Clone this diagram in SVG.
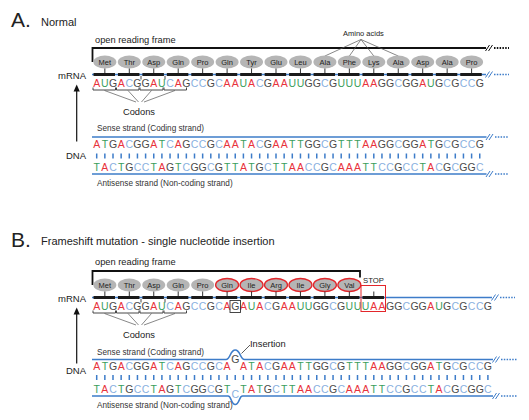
<svg xmlns="http://www.w3.org/2000/svg" width="529" height="420" viewBox="0 0 529 420">
<style>
text{font-family:"Liberation Sans",Arial,sans-serif;fill:#222}
.nt{font-size:10.5px;text-anchor:middle;fill:#4a4a4a}
.a{fill:#e8323c}.u{fill:#3a9e5c}.c{fill:#8ab0e0}
.aa ellipse{fill:#b5b5b5}
.aa text{font-size:7.5px;text-anchor:middle;fill:#222}
.mut ellipse{stroke:#e3262b;stroke-width:1.3}
.bb{stroke:#3d7cc9;stroke-width:1.6;fill:none}
.bar{stroke:#1a1a1a;stroke-width:3;stroke-dasharray:21.5 2.95}
.stem{stroke:#333;stroke-width:5;stroke-dasharray:1 23.45}
.tick{stroke:#3d7cc9;stroke-width:5;stroke-dasharray:1.5 6.65}
.dotb{stroke:#3d7cc9;stroke-width:1.6;stroke-dasharray:1.5 1.3}
.dotk{stroke:#111;stroke-width:1.8;stroke-dasharray:1.5 1.3}
.brk{stroke-width:1;fill:none}
.thin{stroke:#555;stroke-width:0.7;fill:none}
.brk2{stroke:#333;stroke-width:0.9;fill:none}
.lbl{font-size:8.2px;fill:#333}
.side{font-size:9.5px;text-anchor:end}
.orf{font-size:9.3px}
</style>

<!-- ================= PART A ================= -->
<g id="partA">
  <text x="11" y="26.7" font-size="21">A.</text>
  <text x="41" y="26" font-size="11">Normal</text>
  <text class="orf" x="95" y="42.5">open reading frame</text>

  <g id="A-orf-bracket">
    <path d="M92.5 62V48H486" stroke="#111" stroke-width="1.8" fill="none"/>
    <path class="brk" stroke="#111" d="M485.5 51L489.5 45M488.5 51L492.5 45"/>
    <line class="dotk" x1="494" y1="48" x2="509" y2="48"/>
  </g>

  <g id="A-amino-label">
    <text x="343" y="36" font-size="7.5">Amino acids</text>
    <path class="thin" d="M361 39.5L324.9 56M361 39.5L349.35 56M361 39.5L373.8 56M361 39.5L398.25 56"/>
  </g>

  <g id="A-aminoacids" class="aa">
    <g id="A-aa1"><ellipse cx="104.85" cy="62" rx="11.5" ry="6.5"/><text x="104.85" y="64.7">Met</text></g>
    <g id="A-aa2"><ellipse cx="129.3" cy="62" rx="11.5" ry="6.5"/><text x="129.3" y="64.7">Thr</text></g>
    <g id="A-aa3"><ellipse cx="153.75" cy="62" rx="11.5" ry="6.5"/><text x="153.75" y="64.7">Asp</text></g>
    <g id="A-aa4"><ellipse cx="178.2" cy="62" rx="11.5" ry="6.5"/><text x="178.2" y="64.7">Gln</text></g>
    <g id="A-aa5"><ellipse cx="202.65" cy="62" rx="11.5" ry="6.5"/><text x="202.65" y="64.7">Pro</text></g>
    <g id="A-aa6"><ellipse cx="227.1" cy="62" rx="11.5" ry="6.5"/><text x="227.1" y="64.7">Gln</text></g>
    <g id="A-aa7"><ellipse cx="251.55" cy="62" rx="11.5" ry="6.5"/><text x="251.55" y="64.7">Tyr</text></g>
    <g id="A-aa8"><ellipse cx="276" cy="62" rx="11.5" ry="6.5"/><text x="276" y="64.7">Glu</text></g>
    <g id="A-aa9"><ellipse cx="300.45" cy="62" rx="11.5" ry="6.5"/><text x="300.45" y="64.7">Leu</text></g>
    <g id="A-aa10"><ellipse cx="324.9" cy="62" rx="11.5" ry="6.5"/><text x="324.9" y="64.7">Ala</text></g>
    <g id="A-aa11"><ellipse cx="349.35" cy="62" rx="11.5" ry="6.5"/><text x="349.35" y="64.7">Phe</text></g>
    <g id="A-aa12"><ellipse cx="373.8" cy="62" rx="11.5" ry="6.5"/><text x="373.8" y="64.7">Lys</text></g>
    <g id="A-aa13"><ellipse cx="398.25" cy="62" rx="11.5" ry="6.5"/><text x="398.25" y="64.7">Ala</text></g>
    <g id="A-aa14"><ellipse cx="422.7" cy="62" rx="11.5" ry="6.5"/><text x="422.7" y="64.7">Asp</text></g>
    <g id="A-aa15"><ellipse cx="447.15" cy="62" rx="11.5" ry="6.5"/><text x="447.15" y="64.7">Ala</text></g>
    <g id="A-aa16"><ellipse cx="471.6" cy="62" rx="11.5" ry="6.5"/><text x="471.6" y="64.7">Pro</text></g>
  </g>

  <g id="A-mrna">
    <text class="side" x="86" y="78.5">mRNA</text>
    <line class="stem" x1="104.35" y1="71" x2="472.2" y2="71"/>
    <line class="bb" x1="92" y1="74.5" x2="486" y2="74.5"/>
    <line class="bar" x1="93.5" y1="74.5" x2="481.8" y2="74.5"/>
    <path class="brk" stroke="#3d7cc9" d="M485.5 77.5L489.5 71.5M488.5 77.5L492.5 71.5"/>
    <line class="dotb" x1="494" y1="74.5" x2="509" y2="74.5"/>
    <path class="brk2" d="M141 76V79.5M165 76V79.5"/>
    <text class="nt" y="86.5" x="96.7 104.85 113 121.15 129.3 137.45 145.6 153.75 161.9 170.05 178.2 186.35 194.5 202.65 210.8 218.95 227.1 235.25 243.4 251.55 259.7 267.85 276 284.15 292.3 300.45 308.6 316.75 324.9 333.05 341.2 349.35 357.5 365.65 373.8 381.95 390.1 398.25 406.4 414.55 422.7 430.85 439 447.15 455.3 463.45 471.6 479.75"><tspan class="a">A</tspan><tspan class="u">U</tspan>G<tspan class="a">A</tspan><tspan class="c">C</tspan>GG<tspan class="a">A</tspan><tspan class="u">U</tspan><tspan class="c">C</tspan><tspan class="a">A</tspan>G<tspan class="c">CC</tspan>G<tspan class="c">C</tspan><tspan class="a">AA</tspan><tspan class="u">U</tspan><tspan class="a">A</tspan><tspan class="c">C</tspan>G<tspan class="a">AA</tspan><tspan class="u">UU</tspan>GG<tspan class="c">C</tspan>G<tspan class="u">UUU</tspan><tspan class="a">AA</tspan>GG<tspan class="c">C</tspan>GG<tspan class="a">A</tspan><tspan class="u">U</tspan>G<tspan class="c">C</tspan>G<tspan class="c">CC</tspan>G</text>
  </g>

  <g id="A-codons">
    <path class="brk2" d="M93 87.5V90H115.5V87.5M116.5 87.5V90H139V87.5M140 87.5V90H163V87.5M164 87.5V90H186.5V87.5"/>
    <path class="thin" d="M104.5 90.5L136 102M128 90.5L138.5 102M151.5 90.5L141.5 102M175 90.5L144 102"/>
    <text x="139" y="115" font-size="9.3" text-anchor="middle">Codons</text>
  </g>

  <g id="A-arrow">
    <line x1="76.7" y1="141.5" x2="76.7" y2="90" stroke="#111" stroke-width="1.2"/>
    <path d="M76.7 84.5L73.6 91.5H79.8Z" fill="#111"/>
  </g>

  <g id="A-dna">
    <text class="side" x="86" y="159">DNA</text>
    <text class="lbl" x="97" y="131">Sense strand (Coding strand)</text>
    <line class="bb" x1="92" y1="137" x2="486.5" y2="137"/>
    <path class="brk" stroke="#3d7cc9" d="M486 140L490 134M489 140L493 134"/>
    <line class="dotb" x1="495" y1="137" x2="509" y2="137"/>
    <text class="nt" y="148.3" x="96.7 104.85 113 121.15 129.3 137.45 145.6 153.75 161.9 170.05 178.2 186.35 194.5 202.65 210.8 218.95 227.1 235.25 243.4 251.55 259.7 267.85 276 284.15 292.3 300.45 308.6 316.75 324.9 333.05 341.2 349.35 357.5 365.65 373.8 381.95 390.1 398.25 406.4 414.55 422.7 430.85 439 447.15 455.3 463.45 471.6 479.75"><tspan class="a">A</tspan><tspan class="u">T</tspan>G<tspan class="a">A</tspan><tspan class="c">C</tspan>GG<tspan class="a">A</tspan><tspan class="u">T</tspan><tspan class="c">C</tspan><tspan class="a">A</tspan>G<tspan class="c">CC</tspan>G<tspan class="c">C</tspan><tspan class="a">AA</tspan><tspan class="u">T</tspan><tspan class="a">A</tspan><tspan class="c">C</tspan>G<tspan class="a">AA</tspan><tspan class="u">TT</tspan>GG<tspan class="c">C</tspan>G<tspan class="u">TTT</tspan><tspan class="a">AA</tspan>GG<tspan class="c">C</tspan>GG<tspan class="a">A</tspan><tspan class="u">T</tspan>G<tspan class="c">C</tspan>G<tspan class="c">CC</tspan>G</text>
    <line class="tick" x1="95.95" y1="156" x2="480.6" y2="156"/>
    <text class="nt" y="170.7" x="96.7 104.85 113 121.15 129.3 137.45 145.6 153.75 161.9 170.05 178.2 186.35 194.5 202.65 210.8 218.95 227.1 235.25 243.4 251.55 259.7 267.85 276 284.15 292.3 300.45 308.6 316.75 324.9 333.05 341.2 349.35 357.5 365.65 373.8 381.95 390.1 398.25 406.4 414.55 422.7 430.85 439 447.15 455.3 463.45 471.6 479.75"><tspan class="u">T</tspan><tspan class="a">A</tspan><tspan class="c">C</tspan><tspan class="u">T</tspan>G<tspan class="c">CC</tspan><tspan class="u">T</tspan><tspan class="a">A</tspan>G<tspan class="u">T</tspan><tspan class="c">C</tspan>GG<tspan class="c">C</tspan>G<tspan class="u">TT</tspan><tspan class="a">A</tspan><tspan class="u">T</tspan>G<tspan class="c">C</tspan><tspan class="u">TT</tspan><tspan class="a">AA</tspan><tspan class="c">CC</tspan>G<tspan class="c">C</tspan><tspan class="a">AAA</tspan><tspan class="u">TT</tspan><tspan class="c">CC</tspan>G<tspan class="c">CC</tspan><tspan class="u">T</tspan><tspan class="a">A</tspan><tspan class="c">C</tspan>G<tspan class="c">C</tspan>GG<tspan class="c">C</tspan></text>
    <line class="bb" x1="92" y1="174" x2="486.5" y2="174"/>
    <path class="brk" stroke="#3d7cc9" d="M486 177L490 171M489 177L493 171"/>
    <line class="dotb" x1="495" y1="174" x2="509" y2="174"/>
    <text class="lbl" x="97" y="185.5">Antisense strand (Non-coding strand)</text>
  </g>
</g>

<!-- ================= PART B ================= -->
<g id="partB">
  <text x="11" y="246.7" font-size="21">B.</text>
  <text x="41" y="244.5" font-size="11">Frameshift mutation - single nucleotide insertion</text>
  <text class="orf" x="95" y="265">open reading frame</text>

  <g id="B-orf-bracket">
    <path d="M92.5 285V271H360V277.5" stroke="#111" stroke-width="1.8" fill="none"/>
    <text x="373.5" y="283" font-size="7.7" text-anchor="middle">STOP</text>
  </g>

  <g id="B-aminoacids" class="aa">
    <g id="B-aa1"><ellipse cx="104.85" cy="285" rx="11.5" ry="6.5"/><text x="104.85" y="287.7">Met</text></g>
    <g id="B-aa2"><ellipse cx="129.3" cy="285" rx="11.5" ry="6.5"/><text x="129.3" y="287.7">Thr</text></g>
    <g id="B-aa3"><ellipse cx="153.75" cy="285" rx="11.5" ry="6.5"/><text x="153.75" y="287.7">Asp</text></g>
    <g id="B-aa4"><ellipse cx="178.2" cy="285" rx="11.5" ry="6.5"/><text x="178.2" y="287.7">Gln</text></g>
    <g id="B-aa5"><ellipse cx="202.65" cy="285" rx="11.5" ry="6.5"/><text x="202.65" y="287.7">Pro</text></g>
    <g id="B-aa6" class="mut"><ellipse cx="227.1" cy="285" rx="11.5" ry="6.5"/><text x="227.1" y="287.7">Gln</text></g>
    <g id="B-aa7" class="mut"><ellipse cx="251.55" cy="285" rx="11.5" ry="6.5"/><text x="251.55" y="287.7">Ile</text></g>
    <g id="B-aa8" class="mut"><ellipse cx="276" cy="285" rx="11.5" ry="6.5"/><text x="276" y="287.7">Arg</text></g>
    <g id="B-aa9" class="mut"><ellipse cx="300.45" cy="285" rx="11.5" ry="6.5"/><text x="300.45" y="287.7">Ile</text></g>
    <g id="B-aa10" class="mut"><ellipse cx="324.9" cy="285" rx="11.5" ry="6.5"/><text x="324.9" y="287.7">Gly</text></g>
    <g id="B-aa11" class="mut"><ellipse cx="349.35" cy="285" rx="11.5" ry="6.5"/><text x="349.35" y="287.7">Val</text></g>
  </g>

  <g id="B-mrna">
    <text class="side" x="86" y="301.5">mRNA</text>
    <line class="stem" x1="104.35" y1="294" x2="374.4" y2="294"/>
    <line class="bb" x1="92" y1="297.5" x2="492" y2="297.5"/>
    <line class="bar" x1="93.5" y1="297.5" x2="384" y2="297.5"/>
    <path class="brk" stroke="#3d7cc9" d="M491.5 300.5L495.5 294.5M494.5 300.5L498.5 294.5"/>
    <line class="dotb" x1="500" y1="297.5" x2="515" y2="297.5"/>
    <path class="brk2" d="M141 299V302.5M165 299V302.5"/>
    <text class="nt" y="309.5" x="96.7 104.85 113 121.15 129.3 137.45 145.6 153.75 161.9 170.05 178.2 186.35 194.5 202.65 210.8 218.95 227.1 235.25 243.4 251.55 259.7 267.85 276 284.15 292.3 300.45 308.6 316.75 324.9 333.05 341.2 349.35 357.5 365.65 373.8 381.95 390.1 398.25 406.4 414.55 422.7 430.85 439 447.15 455.3 463.45 471.6 479.75 487.9"><tspan class="a">A</tspan><tspan class="u">U</tspan>G<tspan class="a">A</tspan><tspan class="c">C</tspan>GG<tspan class="a">A</tspan><tspan class="u">U</tspan><tspan class="c">C</tspan><tspan class="a">A</tspan>G<tspan class="c">CC</tspan>G<tspan class="c">C</tspan><tspan class="a">A</tspan>G<tspan class="a">A</tspan><tspan class="u">U</tspan><tspan class="a">A</tspan><tspan class="c">C</tspan>G<tspan class="a">AA</tspan><tspan class="u">UU</tspan>GG<tspan class="c">C</tspan>G<tspan class="u">UUU</tspan><tspan class="a">AA</tspan>GG<tspan class="c">C</tspan>GG<tspan class="a">A</tspan><tspan class="u">U</tspan>G<tspan class="c">C</tspan>G<tspan class="c">CC</tspan>G</text>
    <rect x="230" y="300.5" width="10.5" height="12" fill="none" stroke="#333" stroke-width="0.9"/>
    <rect x="361" y="285.5" width="24.5" height="26" fill="none" stroke="#e3262b" stroke-width="1"/>
  </g>

  <g id="B-codons">
    <path class="brk2" d="M93 310.5V313H115.5V310.5M116.5 310.5V313H139V310.5M140 310.5V313H163V310.5M164 310.5V313H186.5V310.5"/>
    <path class="thin" d="M104.5 313.5L136 325M128 313.5L138.5 325M151.5 313.5L141.5 325M175 313.5L144 325"/>
    <text x="139" y="338" font-size="9.3" text-anchor="middle">Codons</text>
  </g>

  <g id="B-arrow">
    <line x1="76.7" y1="363.5" x2="76.7" y2="313" stroke="#111" stroke-width="1.2"/>
    <path d="M76.7 307.5L73.6 314.5H79.8Z" fill="#111"/>
  </g>

  <g id="B-dna">
    <text class="side" x="86" y="374">DNA</text>
    <text class="lbl" x="97" y="354.5">Sense strand (Coding strand)</text>
    <path class="bb" d="M92 359.5H226C230.5 359.5 230 350 235.25 350C240.5 350 240 359.5 244.5 359.5H493"/>
    <path class="brk" stroke="#3d7cc9" d="M492.5 362.5L496.5 356.5M495.5 362.5L499.5 356.5"/>
    <line class="dotb" x1="501" y1="359.5" x2="517" y2="359.5"/>
    <text class="nt" y="370" x="96.7 104.85 113 121.15 129.3 137.45 145.6 153.75 161.9 170.05 178.2 186.35 194.5 202.65 210.8 218.95 227.1"><tspan class="a">A</tspan><tspan class="u">T</tspan>G<tspan class="a">A</tspan><tspan class="c">C</tspan>GG<tspan class="a">A</tspan><tspan class="u">T</tspan><tspan class="c">C</tspan><tspan class="a">A</tspan>G<tspan class="c">CC</tspan>G<tspan class="c">C</tspan><tspan class="a">A</tspan></text>
    <text class="nt" x="235.25" y="363">G</text>
    <text class="nt" y="370" x="243.4 251.55 259.7 267.85 276 284.15 292.3 300.45 308.6 316.75 324.9 333.05 341.2 349.35 357.5 365.65 373.8 381.95 390.1 398.25 406.4 414.55 422.7 430.85 439 447.15 455.3 463.45 471.6 479.75 487.9"><tspan class="a">A</tspan><tspan class="u">T</tspan><tspan class="a">A</tspan><tspan class="c">C</tspan>G<tspan class="a">AA</tspan><tspan class="u">TT</tspan>GG<tspan class="c">C</tspan>G<tspan class="u">TTT</tspan><tspan class="a">AA</tspan>GG<tspan class="c">C</tspan>GG<tspan class="a">A</tspan><tspan class="u">T</tspan>G<tspan class="c">C</tspan>G<tspan class="c">CC</tspan>G</text>
    <line class="tick" x1="95.95" y1="377.5" x2="488.7" y2="377.5"/>
    <text class="nt" y="393" x="96.7 104.85 113 121.15 129.3 137.45 145.6 153.75 161.9 170.05 178.2 186.35 194.5 202.65 210.8 218.95 227.1"><tspan class="u">T</tspan><tspan class="a">A</tspan><tspan class="c">C</tspan><tspan class="u">T</tspan>G<tspan class="c">CC</tspan><tspan class="u">T</tspan><tspan class="a">A</tspan>G<tspan class="u">T</tspan><tspan class="c">C</tspan>GG<tspan class="c">C</tspan>G<tspan class="u">T</tspan></text>
    <text class="nt c" x="235.25" y="397.5">C</text>
    <text class="nt" y="393" x="243.4 251.55 259.7 267.85 276 284.15 292.3 300.45 308.6 316.75 324.9 333.05 341.2 349.35 357.5 365.65 373.8 381.95 390.1 398.25 406.4 414.55 422.7 430.85 439 447.15 455.3 463.45 471.6 479.75 487.9"><tspan class="u">T</tspan><tspan class="a">A</tspan><tspan class="u">T</tspan>G<tspan class="c">C</tspan><tspan class="u">TT</tspan><tspan class="a">AA</tspan><tspan class="c">CC</tspan>G<tspan class="c">C</tspan><tspan class="a">AAA</tspan><tspan class="u">TT</tspan><tspan class="c">CC</tspan>G<tspan class="c">CC</tspan><tspan class="u">T</tspan><tspan class="a">A</tspan><tspan class="c">C</tspan>G<tspan class="c">C</tspan>GG<tspan class="c">C</tspan></text>
    <path class="bb" d="M92 396H228C231.5 396 231 404.5 235.25 404.5C239.5 404.5 239 396 242.5 396H493"/>
    <path class="brk" stroke="#3d7cc9" d="M492.5 399L496.5 393M495.5 399L499.5 393"/>
    <line class="dotb" x1="501" y1="396" x2="517" y2="396"/>
    <text class="lbl" x="97" y="407.5">Antisense strand (Non-coding strand)</text>
  </g>

  <g id="B-insertion">
    <text x="250" y="346.5" font-size="9.3">Insertion</text>
    <line x1="250" y1="345" x2="241.5" y2="353.5" stroke="#333" stroke-width="0.8"/>
  </g>
</g>
</svg>
